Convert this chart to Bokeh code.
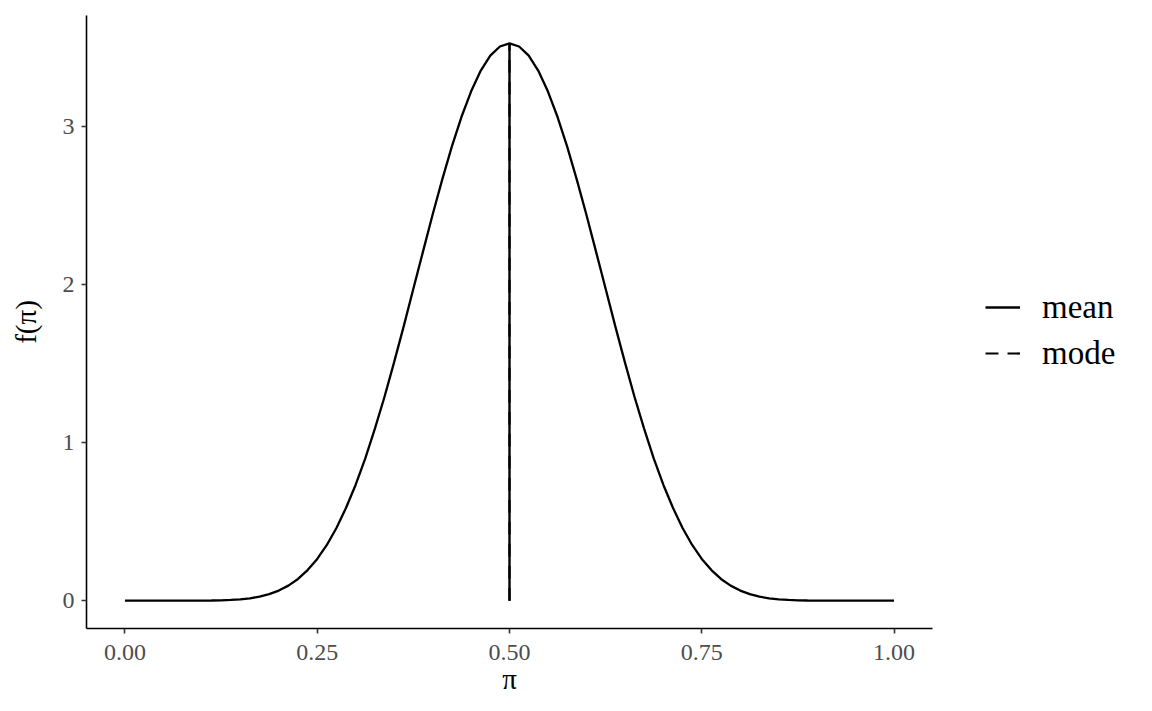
from bokeh.plotting import figure
from bokeh.models import Range1d, FixedTicker, Legend, LegendItem
from bokeh.embed import file_html
from bokeh.resources import INLINE

# Density curve (pi vs f(pi))
pi_vals = [0.0, 0.0125, 0.025, 0.0375, 0.05, 0.0625, 0.075, 0.0875, 0.1, 0.1125,
           0.125, 0.1375, 0.15, 0.1625, 0.175, 0.1875, 0.2, 0.2125, 0.225, 0.2375,
           0.25, 0.2625, 0.275, 0.2875, 0.3, 0.3125, 0.325, 0.3375, 0.35, 0.3625,
           0.375, 0.3875, 0.4, 0.4125, 0.425, 0.4375, 0.45, 0.4625, 0.475, 0.4875,
           0.5,
           0.5125, 0.525, 0.5375, 0.55, 0.5625, 0.575, 0.5875, 0.6, 0.6125, 0.625,
           0.6375, 0.65, 0.6625, 0.675, 0.6875, 0.7, 0.7125, 0.725, 0.7375, 0.75,
           0.7625, 0.775, 0.7875, 0.8, 0.8125, 0.825, 0.8375, 0.85, 0.8625, 0.875,
           0.8875, 0.9, 0.9125, 0.925, 0.9375, 0.95, 0.9625, 0.975, 0.9875, 1.0]
f_vals = [0.0, 0.0, 0.0, 0.0, 0.0, 0.0, 0.00003, 0.0001, 0.0004, 0.0009,
          0.0021, 0.0043, 0.0082, 0.0148, 0.0252, 0.0407, 0.0635, 0.0948, 0.137, 0.193,
          0.264, 0.352, 0.459, 0.587, 0.733, 0.900, 1.088, 1.289, 1.508, 1.736,
          1.972, 2.207, 2.44, 2.662, 2.871, 3.058, 3.219, 3.350, 3.446, 3.504,
          3.524,
          3.504, 3.446, 3.350, 3.219, 3.058, 2.871, 2.662, 2.44, 2.207, 1.972,
          1.736, 1.508, 1.289, 1.088, 0.900, 0.733, 0.587, 0.459, 0.352, 0.264,
          0.193, 0.137, 0.0948, 0.0635, 0.0407, 0.0252, 0.0148, 0.0082, 0.0043, 0.0021,
          0.0009, 0.0004, 0.0001, 0.00003, 0.0, 0.0, 0.0, 0.0, 0.0, 0.0]

mean_x = 0.5
mode_x = 0.5
peak_y = 3.524

x_ticks = [0.0, 0.25, 0.5, 0.75, 1.0]
x_tick_labels = ["0.00", "0.25", "0.50", "0.75", "1.00"]
y_ticks = [0, 1, 2, 3]

SERIF = "Liberation Serif"

p = figure(width=1136, height=695, output_backend="svg", toolbar_location=None,
           x_range=Range1d(-0.05, 1.05), y_range=Range1d(-0.1762, 3.70))
p.frame_width = 846
p.frame_height = 613
p.min_border_left = 86
p.min_border_top = 15
p.min_border_right = 204
p.min_border_bottom = 67

p.grid.visible = False
p.outline_line_color = None
p.background_fill_color = "white"
p.border_fill_color = "white"

p.line(pi_vals, f_vals, line_color="black", line_width=2.3)
r_mode = p.line([mode_x, mode_x], [0, peak_y], line_color="black", line_width=2.2, line_dash="13 9")
r_mean = p.line([mean_x, mean_x], [0, peak_y], line_color="black", line_width=2.4)

for ax in (p.xaxis[0], p.yaxis[0]):
    ax.axis_line_color = "black"
    ax.axis_line_width = 1.6
    ax.major_tick_line_color = "#333333"
    ax.major_tick_line_width = 1.6
    ax.major_tick_out = 5
    ax.major_tick_in = 0
    ax.minor_tick_line_color = None
    ax.major_label_text_font = SERIF
    ax.major_label_text_font_size = "24px"
    ax.major_label_text_color = "#4D4D4D"
    ax.axis_label_text_font = SERIF
    ax.axis_label_text_font_size = "29px"
    ax.axis_label_text_font_style = "normal"
    ax.axis_label_text_color = "black"

p.xaxis.ticker = FixedTicker(ticks=x_ticks)
p.xaxis.major_label_overrides = {t: l for t, l in zip(x_ticks, x_tick_labels)}
p.xaxis.axis_label = "π"
p.xaxis.major_label_standoff = 11
p.xaxis.axis_label_standoff = 0
p.yaxis.ticker = FixedTicker(ticks=y_ticks)
p.yaxis.axis_label = "f(π)"
p.yaxis.major_label_standoff = 7
p.yaxis.axis_label_standoff = 18

legend = Legend(items=[LegendItem(label="mean", renderers=[r_mean]),
                       LegendItem(label="mode", renderers=[r_mode])],
                location=(53, 252))
legend.label_text_font = SERIF
legend.label_text_font_size = "33px"
legend.label_text_color = "black"
legend.glyph_width = 35
legend.glyph_height = 46
legend.label_height = 46
legend.label_standoff = 22
legend.spacing = 0
legend.padding = 0
legend.margin = 0
legend.border_line_color = None
legend.background_fill_alpha = 0
p.add_layout(legend, "right")

open("out.html", "w").write(file_html(p, INLINE))
